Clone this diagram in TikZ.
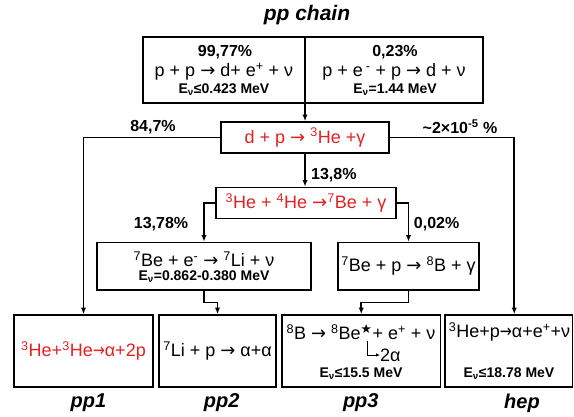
\documentclass[tikz,border=0pt]{standalone}
\usepackage{fontspec}
\setmainfont{Liberation Sans}
\newfontfamily\symfont{DejaVu Sans}
\usetikzlibrary{arrows.meta}
\definecolor{rxred}{RGB}{228,32,32}
\newcommand\fsz[1]{\fontsize{#1}{#1}\selectfont}
\newcommand\nuc[2]{\textsuperscript{#1}#2}
\newcommand\Enu{E\textsubscript{ν}}
\newcommand\ra{{\symfont →}}
\newcommand\sra{\scalebox{0.8}[1]{\symfont →}}

\begin{document}
\begin{tikzpicture}[x=1pt,y=-1pt,
  box/.style={draw, line width=1.9pt, inner sep=0pt},
  conn/.style={line width=1.8pt, -{Latex[length=6.5pt,width=5.5pt]}},
  hookarr/.style={line width=0.8pt, -{Latex[length=4pt,width=3.5pt]}},
  eq/.style={inner sep=0pt, font=\fsz{18}},
  pct/.style={inner sep=0pt, font=\fsz{16}\bfseries},
  ener/.style={inner sep=0pt, font=\fsz{14}\bfseries},
  chain/.style={inner sep=0pt, font=\fsz{20}\bfseries\itshape},
  react/.style={text=rxred}]
\useasboundingbox (0,0) rectangle (574,417);

% title
\node[chain, font=\fsz{21}\bfseries\itshape] (title) at (307,15) {pp chain};

% first step: pp and pep
\node[box, minimum width=340pt, minimum height=65.4pt] (top) at (312.7,70) {};
\node[pct] (ppPct) at (225,52) {99,77\%};
\node[eq]  (ppEq)  at (224,72) {p + p \ra\ d+ e\textsuperscript{+} + ν};
\node[ener] (ppE)  at (224,89.5) {\Enu≤0.423 MeV};
\node[pct] (pepPct) at (395,52) {0,23\%};
\node[eq]  (pepEq)  at (394,72) {p + e\,\textsuperscript{-} + p \ra\ d + ν};
\node[ener] (pepE)  at (395,89.5) {\Enu=1.44 MeV};

% deuterium burning
\node[box, eq, react, minimum width=168pt, minimum height=31pt] (dp) at (305,137.5)
  {d + p \ra\ \nuc{3}{He} +γ};
\node[box, eq, react, minimum width=179.5pt, minimum height=31pt] (he) at (306,203)
  {\nuc{3}{He} + \nuc{4}{He} \ra\nuc{7}{Be} + γ};

% beryllium branches
\node[box, minimum width=214pt, minimum height=47.5pt] (be7e) at (204,266.25) {};
\node[eq]   (be7eEq) at (204,259) {\nuc{7}{Be} + e\textsuperscript{-} \ra\ \nuc{7}{Li} + ν};
\node[ener] (be7eE)  at (204,277) {\Enu=0.862-0.380 MeV};
\node[box, eq, minimum width=141pt, minimum height=47.5pt] (be7p) at (408.5,266.25)
  {\nuc{7}{Be} + p \ra\ \nuc{8}{B} + γ};

% terminal reactions
\node[box, eq, react, minimum width=139pt, minimum height=72pt] (pp1) at (83.5,351)
  {\nuc{3}{He}+\nuc{3}{He}\sra α+2p};
\node[box, eq, minimum width=117pt, minimum height=72pt] (pp2) at (217.5,351)
  {\nuc{7}{Li} + p \ra\ α+α};
\node[box, minimum width=158.5pt, minimum height=72pt] (pp3) at (361.25,351) {};
\node[eq] (pp3Eq) at (361,332) {\nuc{8}{B} \ra\ \nuc{8}{Be}\textsuperscript{\symfont ★}+ e\textsuperscript{+} + ν};
\node[eq, anchor=west] (two) at (380,355) {2α};
\coordinate (hookTop) at (367.4,341);
\draw[hookarr] (hookTop) |- (two.west);
\node[ener] (pp3E) at (361,374) {\Enu≤15.5 MeV};
\node[box, minimum width=127.5pt, minimum height=72pt] (hep) at (508.75,351) {};
\node[eq] (hepEq) at (509.5,332) {\nuc{3}{He}+p\sra α+e\textsuperscript{+}+ν};
\node[ener] (hepE) at (509,374) {\Enu≤18.78 MeV};

% chain names
\node[chain] (n1) at (88.5,403) {pp1};
\node[chain] (n2) at (221.6,403) {pp2};
\node[chain] (n3) at (360.8,403) {pp3};
\node[chain] (n4) at (522,403) {hep};

% connectors
\draw[conn] (top.north -| dp.north) -- (dp.north);
\draw[conn] (dp.west) -| (pp1.north);
\draw[conn] (dp.east) -| ([xshift=5.5pt]hep.north);
\draw[conn] (dp.south) -- (he.north -| dp.south);
\draw[conn] (he.west) -| (be7e.north);
\draw[conn] (he.east) -| (be7p.north);
\draw[conn] (be7e.south) -- ++(0,11.5) -| (pp2.north);
\draw[conn] (be7p.south) -- ++(0,11.5) -| (pp3.north);

% branching ratios
\node[pct] (r847) at (153,127) {84,7\%};
\node[pct] (rhep) at (460,127) {\textasciitilde2×10\textsuperscript{-5} \%};
\node[pct, anchor=west] (r138) at (311,175) {13,8\%};
\node[pct] (r1378) at (161,224) {13,78\%};
\node[pct] (r002) at (436.6,224) {0,02\%};
\end{tikzpicture}
\end{document}
